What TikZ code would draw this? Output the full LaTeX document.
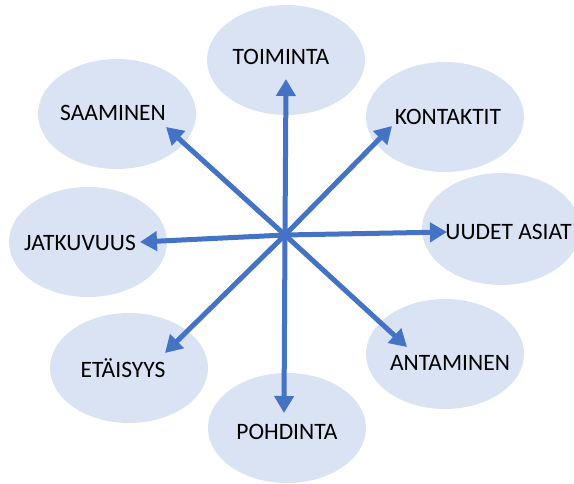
\documentclass[tikz,border=0pt]{standalone}
\usepackage{fontspec}
\setmainfont{Carlito}
\usepackage{tikz}
\usetikzlibrary{shapes.geometric}
\usetikzlibrary{arrows.meta}
\definecolor{bubblefill}{HTML}{DAE3F3}
\definecolor{spokeblue}{HTML}{4472C4}

\begin{document}
\begin{tikzpicture}[x=1pt,y=-1pt,
  bubble/.style={ellipse,fill=bubblefill,minimum width=158pt,minimum height=110pt,inner sep=0pt},
  word/.style={font=\fontsize{23.5}{28}\selectfont,inner sep=0pt},
  spoke/.style={draw=spokeblue,line width=5pt,-{Triangle[length=17pt,width=19pt]}}]
  \useasboundingbox (0,0) rectangle (574,484);
  \clip (0,0) rectangle (574,484);
  %bubbles
  \node[bubble] (b-toiminta) at (286,60) {};
  \node[bubble] (b-saaminen) at (117,114) {};
  \node[bubble] (b-kontaktit) at (445,117) {};
  \node[bubble,minimum height=112pt] (b-uudet) at (501,229) {};
  \node[bubble] (b-jatkuvuus) at (88,242) {};
  \node[bubble] (b-etaisyys) at (129,368) {};
  \node[bubble] (b-antaminen) at (445,354) {};
  \node[bubble] (b-pohdinta) at (287,428) {};
  %arrow ends
  \coordinate (hub) at (285,235);
  \coordinate (a-toiminta) at (286,79);
  \coordinate (a-saaminen) at (166,127);
  \coordinate (a-kontaktit) at (392,126);
  \coordinate (a-uudet) at (447,232);
  \coordinate (a-jatkuvuus) at (140,242);
  \coordinate (a-etaisyys) at (165,353);
  \coordinate (a-antaminen) at (407,347);
  \coordinate (a-pohdinta) at (284,413);
  %spokes
  \foreach \n in {toiminta,saaminen,kontaktit,uudet,jatkuvuus,etaisyys,antaminen,pohdinta}
    \draw[spoke] (hub) -- (a-\n);
  %labels
  \node[word] (t-toiminta) at (281,57) {TOIMINTA};
  \node[word] (t-saaminen) at (113,113) {SAAMINEN};
  \node[word] (t-kontaktit) at (448,117) {KONTAKTIT};
  \node[word,anchor=east] (t-uudet) at (572,232) {UUDET ASIAT};
  \node[word] (t-jatkuvuus) at (80,243) {JATKUVUUS};
  \node[word] (t-etaisyys) at (123,368) {ETÄISYYS};
  \node[word] (t-antaminen) at (450,363) {ANTAMINEN};
  \node[word] (t-pohdinta) at (287,432) {POHDINTA};
\end{tikzpicture}
\end{document}
